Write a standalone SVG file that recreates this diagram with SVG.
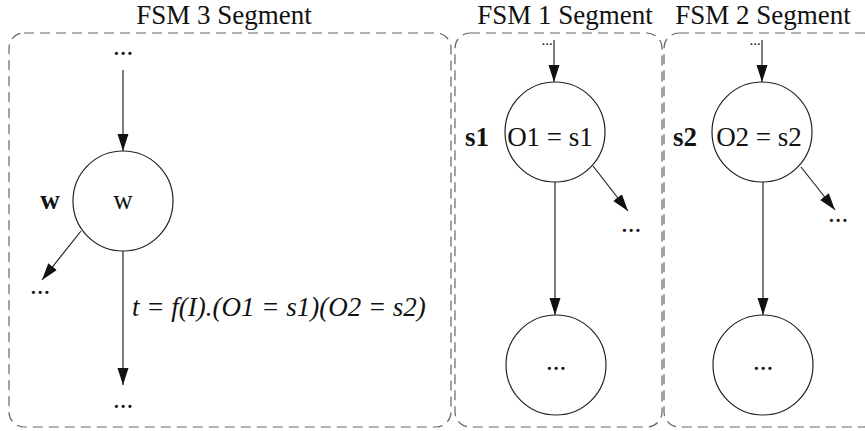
<svg xmlns="http://www.w3.org/2000/svg" width="865" height="431" viewBox="0 0 865 431" font-family="'Liberation Serif', 'Times New Roman', serif">
<style>
text{font-family:'Liberation Serif','Times New Roman',serif;font-size:27px;fill:#111}
.b{font-weight:bold}
.i{font-style:italic}
.d{font-size:15px}
.seg{fill:none;stroke:#666;stroke-width:1.2;stroke-dasharray:10 6}
.st{fill:#fff;stroke:#222;stroke-width:1.2}
.c line{stroke:#222;stroke-width:1.2;marker-end:url(#ah)}
</style>
<defs>
<marker id="ah" markerUnits="userSpaceOnUse" markerWidth="18" markerHeight="12" refX="17" refY="5.5" orient="auto">
<path d="M0,0 L17,5.5 L0,11 z" fill="#111"/>
</marker>
</defs>
<g id="segments">
<rect class="seg" x="9" y="33" width="442" height="394" rx="15" ry="15"/>
<rect class="seg" x="455" y="33" width="207" height="394" rx="15" ry="15"/>
<rect class="seg" x="664" y="33" width="215" height="394" rx="15" ry="15"/>
<text x="224" y="24" text-anchor="middle">FSM 3 Segment</text>
<text x="565" y="24" text-anchor="middle">FSM 1 Segment</text>
<text x="763" y="24" text-anchor="middle">FSM 2 Segment</text>
</g>
<g class="c" id="connectors">
<line x1="123" y1="70" x2="123" y2="151"/>
<line x1="81" y1="231" x2="42" y2="280"/>
<line x1="123" y1="251" x2="123" y2="385"/>
<line x1="554" y1="40" x2="554" y2="82"/>
<line x1="593" y1="166" x2="628" y2="211"/>
<line x1="555" y1="182" x2="555" y2="315"/>
<line x1="762" y1="40" x2="762" y2="82"/>
<line x1="801" y1="167" x2="835" y2="210"/>
<line x1="763" y1="182" x2="763" y2="315"/>
</g>
<g id="labels">
<text x="123" y="55" text-anchor="middle">...</text>
<text x="40" y="294" text-anchor="middle">...</text>
<text x="123" y="408" text-anchor="middle">...</text>
<text class="i" x="132" y="316">t = f(I).(O1 = s1)(O2 = s2)</text>
<text class="d" x="547" y="45" text-anchor="middle">...</text>
<text x="631" y="232" text-anchor="middle">...</text>
<text class="d" x="755" y="45" text-anchor="middle">...</text>
<text x="838" y="222" text-anchor="middle">...</text>
</g>
<g id="node-w">
<circle class="st" cx="123" cy="201" r="50"/>
<text x="123" y="209" text-anchor="middle">w</text>
<text class="b" x="50" y="209" text-anchor="middle">w</text>
</g>
<g id="node-s1">
<circle class="st" cx="555" cy="132" r="50"/>
<text x="550" y="146" text-anchor="middle">O1 = s1</text>
<text class="b" x="477" y="146" text-anchor="middle">s1</text>
</g>
<g id="node-s1-next">
<circle class="st" cx="556" cy="365" r="50"/>
<text x="556" y="370" text-anchor="middle">...</text>
</g>
<g id="node-s2">
<circle class="st" cx="762" cy="132" r="50"/>
<text x="759" y="146" text-anchor="middle">O2 = s2</text>
<text class="b" x="685" y="146" text-anchor="middle">s2</text>
</g>
<g id="node-s2-next">
<circle class="st" cx="763" cy="365" r="50"/>
<text x="763" y="370" text-anchor="middle">...</text>
</g>
</svg>
